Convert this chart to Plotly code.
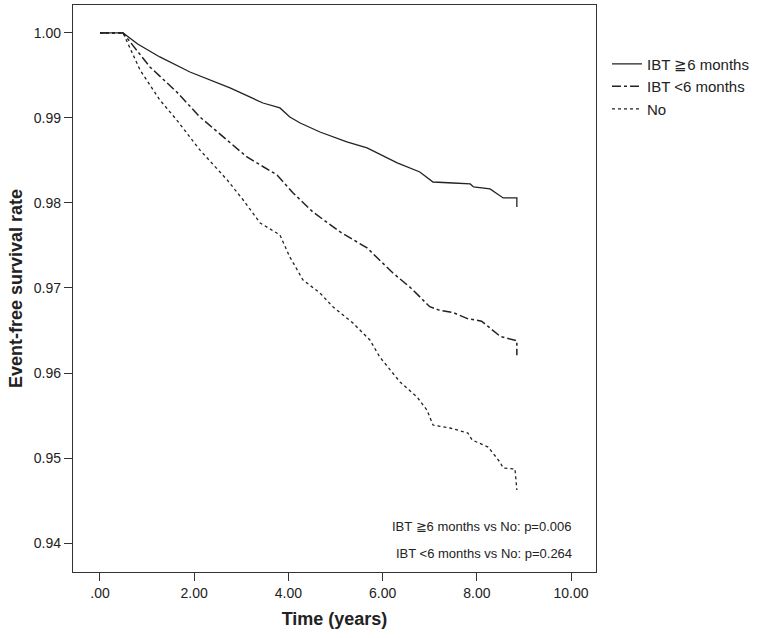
import plotly.graph_objects as go

# Kaplan-Meier curves
t_ge6 = [0.0, 0.49, 0.8, 1.27, 1.91, 2.76, 3.46, 3.82, 4.03, 4.25, 4.67, 5.24, 5.67, 6.31, 6.79, 7.07, 7.5, 7.86, 7.93, 8.28, 8.56, 8.85, 8.85]
s_ge6 = [1.0, 1.0, 0.9987, 0.99718, 0.99541, 0.99353, 0.99176, 0.99118, 0.99012, 0.98941, 0.98835, 0.98718, 0.98647, 0.98471, 0.98365, 0.98247, 0.98235, 0.98224, 0.98188, 0.98165, 0.98059, 0.98059, 0.97953]

t_lt6 = [0.0, 0.49, 1.06, 1.63, 2.12, 2.61, 3.12, 3.76, 4.1, 4.52, 5.1, 5.67, 6.22, 6.6, 7.0, 7.2, 7.5, 7.8, 8.1, 8.3, 8.5, 8.85, 8.85]
s_lt6 = [1.0, 1.0, 0.996, 0.99306, 0.99012, 0.98776, 0.98541, 0.98329, 0.98118, 0.97894, 0.97659, 0.97471, 0.97176, 0.9700, 0.9678, 0.9674, 0.9671, 0.9664, 0.9661, 0.9652, 0.9643, 0.9638, 0.9621]

t_no = [0.0, 0.49, 0.85, 1.27, 1.63, 2.12, 2.7, 3.04, 3.4, 3.82, 4.03, 4.31, 4.67, 4.95, 5.37, 5.73, 5.94, 6.37, 6.73, 6.94, 7.07, 7.43, 7.81, 7.9, 8.24, 8.49, 8.56, 8.81, 8.85]
s_no = [1.0, 1.0, 0.99565, 0.99212, 0.98976, 0.98624, 0.98271, 0.98035, 0.97765, 0.97624, 0.97365, 0.97094, 0.96941, 0.96776, 0.96588, 0.96388, 0.96188, 0.95894, 0.95718, 0.95565, 0.95388, 0.95353, 0.95294, 0.95212, 0.95129, 0.94953, 0.94882, 0.94871, 0.94624]

x_ticks = [0, 2, 4, 6, 8, 10]
x_labels = [".00", "2.00", "4.00", "6.00", "8.00", "10.00"]
y_ticks = [0.94, 0.95, 0.96, 0.97, 0.98, 0.99, 1.00]
y_labels = ["0.94", "0.95", "0.96", "0.97", "0.98", "0.99", "1.00"]

ink = "#222222"
fig = go.Figure()
fig.add_trace(go.Scatter(x=t_ge6, y=s_ge6, mode="lines", name="IBT ≧6 months",
                         line=dict(color=ink, width=1.3, dash="solid")))
fig.add_trace(go.Scatter(x=t_lt6, y=s_lt6, mode="lines", name="IBT <6 months",
                         line=dict(color=ink, width=1.5, dash="dashdot")))
fig.add_trace(go.Scatter(x=t_no, y=s_no, mode="lines", name="No",
                         line=dict(color=ink, width=1.3, dash="dot")))

fig.add_annotation(x=0.957, y=0.081, xref="paper", yref="paper", text="IBT ≧6 months vs No: p=0.006",
                   showarrow=False, xanchor="right", yanchor="middle", font=dict(size=13, color=ink))
fig.add_annotation(x=0.957, y=0.033, xref="paper", yref="paper", text="IBT <6 months vs No: p=0.264",
                   showarrow=False, xanchor="right", yanchor="middle", font=dict(size=13, color=ink))

fig.update_layout(
    width=762, height=638,
    template="none",
    paper_bgcolor="white", plot_bgcolor="white",
    margin=dict(l=73, r=166, t=5, b=66),
    font=dict(family="Liberation Sans, Arial", size=14, color=ink),
    legend=dict(x=1.021, y=0.925, xanchor="left", yanchor="top", bgcolor="rgba(0,0,0,0)",
                font=dict(size=15), tracegroupgap=0, itemwidth=30),
)
fig.update_xaxes(range=[-0.573, 10.53], tickvals=x_ticks, ticktext=x_labels, showgrid=False, zeroline=False,
                 showline=True, mirror=True, linecolor="#333333", linewidth=1.3,
                 ticks="outside", ticklen=8, tickwidth=1.3, tickcolor="#333333",
                 title=dict(text="<b>Time (years)</b>", font=dict(size=18), standoff=12))
fig.update_yaxes(range=[0.93659, 1.00329], tickvals=y_ticks, ticktext=y_labels, showgrid=False, zeroline=False,
                 showline=True, mirror=True, linecolor="#333333", linewidth=1.3,
                 ticks="outside", ticklen=8, tickwidth=1.3, tickcolor="#333333",
                 title=dict(text="<b>Event-free survival rate</b>", font=dict(size=18), standoff=6))

fig.write_html("out.html", config={"displayModeBar": False},
               post_script="document.body.style.margin='0';")
